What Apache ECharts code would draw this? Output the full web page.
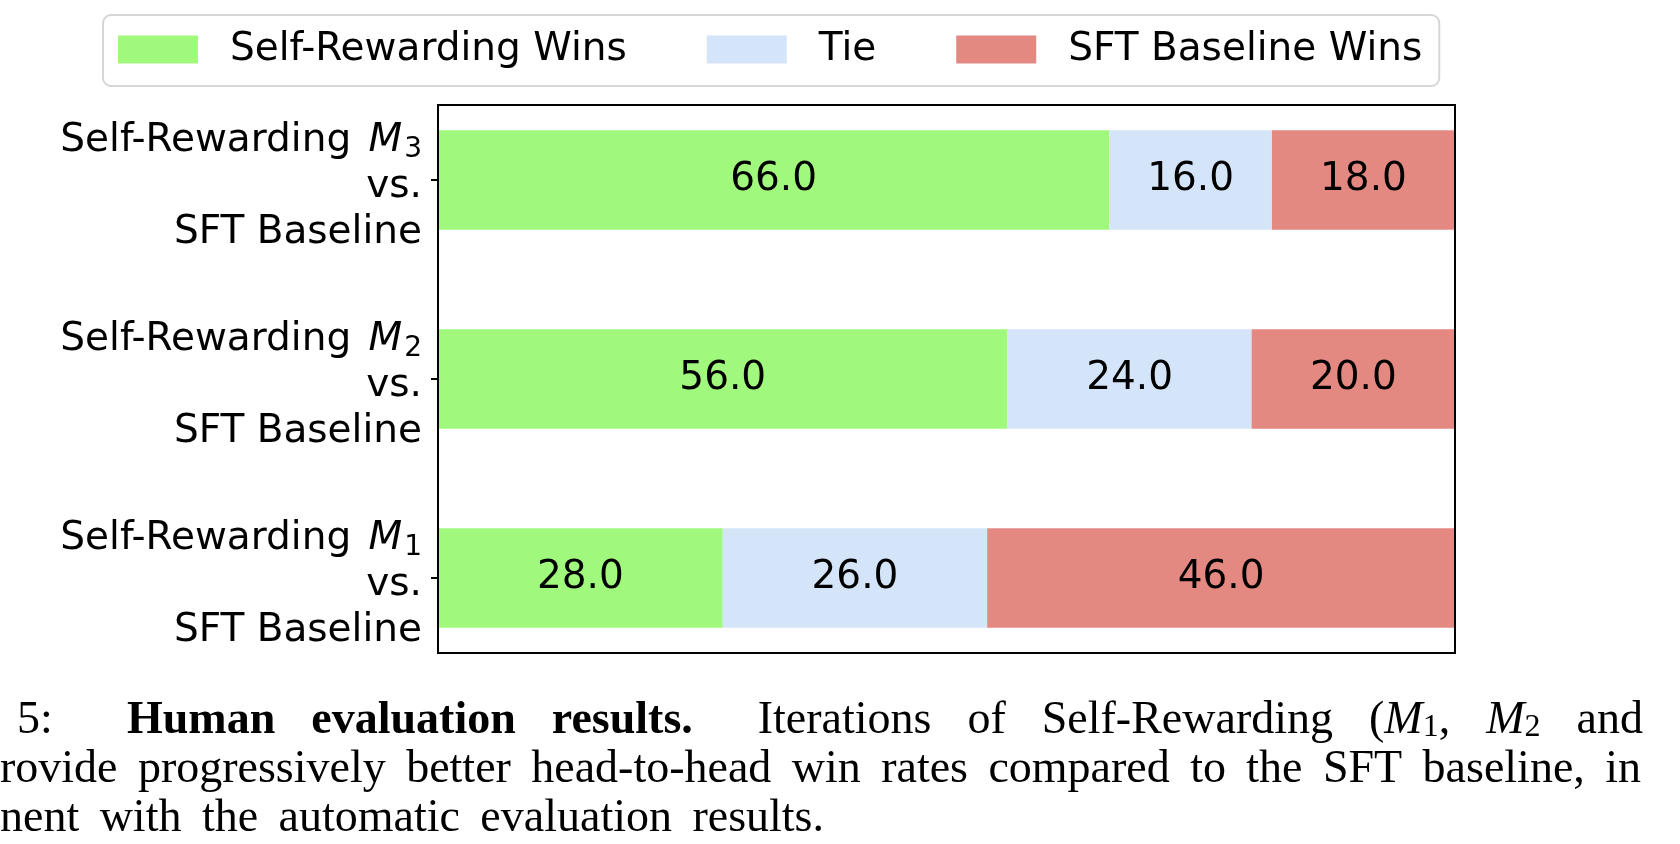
<!DOCTYPE html>
<html>
<head>
<meta charset="utf-8">
<script src="https://cdn.jsdelivr.net/npm/echarts@6/dist/echarts.min.js"></script>
<style>
html,body{margin:0;padding:0;background:#fff;}
#chart{width:1680px;height:844px;}
</style>
</head>
<body>
<div id="chart"></div>
<script>
// ---- data ----
const modelIds = ['1', '2', '3'];            // Self-Rewarding M1, M2, M3 (bottom to top)
const seriesNames = ['Self-Rewarding Wins', 'Tie', 'SFT Baseline Wins'];
const selfRewardingWins = [28.0, 56.0, 66.0];
const ties = [26.0, 24.0, 16.0];
const sftBaselineWins = [46.0, 20.0, 18.0];
const seriesColors = ['#a0f97c', '#d4e4f9', '#e48882'];

// caption text (cropped LaTeX caption below the figure); '*' marks bold words
const captionLabel = '5:';
const captionLine1 = ['*Human', '*evaluation', '*results.', 'Iterations', 'of', 'Self-Rewarding', '({it|M}{sub|1},', '{it|M}{sub|2}', 'and'];
const captionLine2 = ['rovide', 'progressively', 'better', 'head-to-head', 'win', 'rates', 'compared', 'to', 'the', 'SFT', 'baseline,', 'in'];
const captionLine3 = ['nent', 'with', 'the', 'automatic', 'evaluation', 'results.'];

const SANS = 'DejaVu Sans';
const SERIF = 'Liberation Serif';
const CAP_SIZE = 46;
const SUB_SIZE = 32;

const chart = echarts.init(document.getElementById('chart'), null, {renderer: 'canvas'});

function barSeries(name, values, color) {
  return {
    name: name,
    type: 'bar',
    stack: 'total',
    xAxisIndex: 0,
    yAxisIndex: 0,
    barWidth: '50%',
    data: values,
    itemStyle: {color: color},
    label: {
      show: true,
      position: 'inside',
      color: '#000',
      fontFamily: SANS,
      fontSize: 39,
      formatter: p => p.value.toFixed(1)
    },
    emphasis: {disabled: true}
  };
}

// ---- caption layout (justified like the LaTeX source) ----
const mctx = document.createElement('canvas').getContext('2d');
function measureWord(w, bold) {
  let width = 0;
  const re = /\{(\w+)\|([^}]*)\}|([^{]+)/g;
  let m;
  while ((m = re.exec(w)) !== null) {
    if (m[3] !== undefined) {
      mctx.font = (bold ? 'bold ' : '') + CAP_SIZE + 'px "' + SERIF + '"';
      width += mctx.measureText(m[3]).width;
    } else if (m[1] === 'it') {
      mctx.font = 'italic ' + CAP_SIZE + 'px "' + SERIF + '"';
      width += mctx.measureText(m[2]).width;
    } else {
      mctx.font = SUB_SIZE + 'px "' + SERIF + '"';
      width += mctx.measureText(m[2]).width;
    }
  }
  return width;
}
const capRich = {
  it: {fontFamily: SERIF, fontSize: CAP_SIZE, fontStyle: 'italic', lineHeight: 46},
  sub: {fontFamily: SERIF, fontSize: SUB_SIZE, lineHeight: 24, verticalAlign: 'bottom'}
};
function capText(text, x, y, bold) {
  return {
    type: 'text', x: x, y: y, silent: true,
    style: {
      text: text, fontFamily: SERIF, fontSize: CAP_SIZE, fill: '#000',
      fontWeight: bold ? 'bold' : 'normal',
      align: 'left', verticalAlign: 'middle', lineHeight: 46, rich: capRich
    }
  };
}
function justify(words, x0, x1, y, gapWeights) {
  const items = words.map(w => {
    const bold = w.charAt(0) === '*';
    const t = bold ? w.slice(1) : w;
    return {t: t, bold: bold, w: measureWord(t, bold)};
  });
  const total = items.reduce((s, it) => s + it.w, 0);
  const weights = gapWeights || items.slice(1).map(() => 1);
  const unit = (x1 - x0 - total) / weights.reduce((s, v) => s + v, 0);
  const out = [];
  let x = x0;
  items.forEach((it, i) => {
    out.push(capText(it.t, x, y, it.bold));
    x += it.w + (i < weights.length ? weights[i] * unit : 0);
  });
  return out;
}
const lineY = [721, 770, 819];

const option = {
  backgroundColor: '#fff',
  animation: false,
  legend: {
    left: 103, top: 15,
    orient: 'horizontal',
    data: seriesNames,
    icon: 'rect',
    itemWidth: 80, itemHeight: 28, itemGap: 80,
    padding: [15, 17, 17, 15],
    borderColor: '#d6d6d6', borderWidth: 2, borderRadius: 8,
    backgroundColor: '#fff',
    selectedMode: false,
    textStyle: {fontFamily: SANS, fontSize: 39, color: '#000', lineHeight: 39, padding: [0, 0, 0, 27]}
  },
  grid: [
    {left: 438, right: 225, top: 80.5, bottom: 166.5, show: false},
    {left: 438, right: 225, top: 105, bottom: 191, show: true, z: 5,
     borderColor: '#000', borderWidth: 2, backgroundColor: 'transparent'}
  ],
  xAxis: [
    {type: 'value', gridIndex: 0, min: 0, max: 100, show: false},
    {type: 'value', gridIndex: 1, min: 0, max: 1, show: false}
  ],
  yAxis: [
    {
      type: 'category', gridIndex: 0, data: modelIds,
      axisLine: {show: false},
      axisTick: {show: true, alignWithLabel: true, length: 7, lineStyle: {color: '#000', width: 2}},
      splitLine: {show: false},
      axisLabel: {
        margin: 16,
        align: 'right',
        padding: [14, 0, 0, 0],
        formatter: v => '{a|Self-Rewarding }{m|M}{s|' + v + '}\n{a|vs.}\n{a|SFT Baseline}',
        rich: {
          a: {fontFamily: SANS, fontSize: 39, color: '#000', lineHeight: 46},
          m: {fontFamily: SANS, fontSize: 39, fontStyle: 'italic', color: '#000', lineHeight: 46, padding: [0, 2, 0, 5]},
          s: {fontFamily: SANS, fontSize: 28, color: '#000', lineHeight: 24, verticalAlign: 'bottom'}
        }
      }
    },
    {type: 'value', gridIndex: 1, min: 0, max: 1, show: false}
  ],
  series: [
    barSeries(seriesNames[0], selfRewardingWins, seriesColors[0]),
    barSeries(seriesNames[1], ties, seriesColors[1]),
    barSeries(seriesNames[2], sftBaselineWins, seriesColors[2])
  ],
  graphic: [].concat(
    [capText(captionLabel, 17, lineY[0], false)],
    justify(captionLine1, 127, 1643, lineY[0], [1, 1, 1.8, 1, 1, 1, 1, 1]),
    justify(captionLine2, 0, 1641, lineY[1]),
    justify(captionLine3, 0, 824, lineY[2])
  )
};
chart.setOption(option);
</script>
</body>
</html>
